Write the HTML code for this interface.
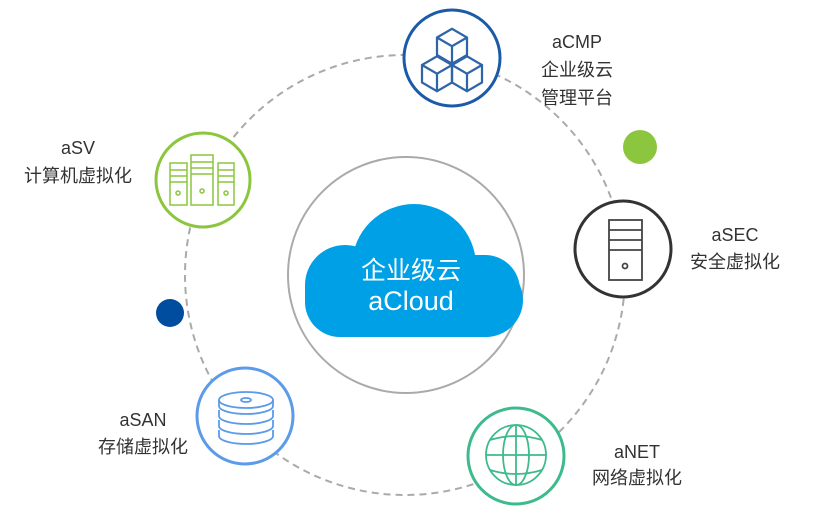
<!DOCTYPE html>
<html><head><meta charset="utf-8"><style>
html,body{margin:0;padding:0;background:#fff;width:826px;height:518px;overflow:hidden}
svg{display:block}
text{font-family:"Liberation Sans","Noto Sans CJK SC",sans-serif;fill:#333;font-size:18px;text-anchor:middle}
</style></head><body>
<svg width="826" height="518" viewBox="0 0 826 518">
<circle cx="405" cy="275" r="220" fill="none" stroke="#aaa" stroke-width="2" stroke-dasharray="7,5"/>
<circle cx="406" cy="275" r="118" fill="#fff" stroke="#aaa" stroke-width="2"/>
<g fill="#00a0e6">
<rect x="305" y="255" width="215" height="82" rx="35"/>
<circle cx="345" cy="285" r="40"/>
<circle cx="414" cy="266" r="62"/>
<circle cx="486" cy="300" r="37"/>
</g>
<text x="411" y="279" style="fill:#fff;font-size:25px">企业级云</text>
<text x="411" y="310" style="fill:#fff;font-size:27px">aCloud</text>
<circle cx="640" cy="147" r="17" fill="#8cc63f"/>
<circle cx="170" cy="313" r="14" fill="#004c9e"/>
<circle cx="452" cy="58" r="48" fill="#fff" stroke="#1a5aa8" stroke-width="3"/>
<g fill="none" stroke="#2e64a8" stroke-width="1.8" transform="translate(452 60) scale(1.25) translate(-452 -60)">
<path d="M440 42 l12 -7 l12 7 v14 l-12 7 l-12 -7z M440 42 l12 7 l12 -7 M452 49 v14"/>
<path d="M428 64 l12 -7 l12 7 v14 l-12 7 l-12 -7z M428 64 l12 7 l12 -7 M440 71 v14"/>
<path d="M452 64 l12 -7 l12 7 v14 l-12 7 l-12 -7z M452 64 l12 7 l12 -7 M464 71 v14"/>
</g>
<circle cx="203" cy="180" r="47" fill="#fff" stroke="#8cc63f" stroke-width="3"/>
<g fill="none" stroke="#8cc63f" stroke-width="1.5">
<rect x="170" y="163" width="17" height="42"/><rect x="191" y="155" width="22" height="50"/><rect x="218" y="163" width="16" height="42"/>
<path d="M170 170h17M170 176h17M170 182h17M191 162h22M191 168h22M191 174h22M218 170h16M218 176h16M218 182h16"/>
<circle cx="178" cy="193" r="2"/><circle cx="202" cy="191" r="2"/><circle cx="226" cy="193" r="2"/>
</g>
<circle cx="623" cy="249" r="48" fill="#fff" stroke="#333" stroke-width="3"/>
<g fill="none" stroke="#444" stroke-width="1.8">
<rect x="609" y="220" width="33" height="60"/><path d="M609 230h33M609 240h33M609 250h33"/><circle cx="625" cy="266" r="2.5"/>
</g>
<circle cx="245" cy="416" r="48" fill="#fff" stroke="#5b9bea" stroke-width="3"/>
<g fill="none" stroke="#5b9bea" stroke-width="1.8">
<ellipse cx="246" cy="400" rx="27" ry="8"/><ellipse cx="246" cy="400" rx="5" ry="2"/>
<path d="M219 400v6a27 8 0 0 0 54 0v-6M219 410v6a27 8 0 0 0 54 0v-6M219 420v6a27 8 0 0 0 54 0v-6M219 430v6a27 8 0 0 0 54 0v-6"/>
</g>
<circle cx="516" cy="456" r="48" fill="#fff" stroke="#3dbb8c" stroke-width="3"/>
<g fill="none" stroke="#3dbb8c" stroke-width="1.8">
<circle cx="516" cy="455" r="30"/><ellipse cx="516" cy="455" rx="13" ry="30"/><path d="M486 455h60M490 440q26 -8 52 0M490 470q26 8 52 0M516 425v60"/>
</g>
<text x="577" y="48">aCMP</text><text x="577" y="76">企业级云</text><text x="577" y="104">管理平台</text>
<text x="78" y="154">aSV</text><text x="78" y="182">计算机虚拟化</text>
<text x="735" y="241">aSEC</text><text x="735" y="268">安全虚拟化</text>
<text x="143" y="426">aSAN</text><text x="143" y="453">存储虚拟化</text>
<text x="637" y="458">aNET</text><text x="637" y="484">网络虚拟化</text>
</svg>
</body></html>
